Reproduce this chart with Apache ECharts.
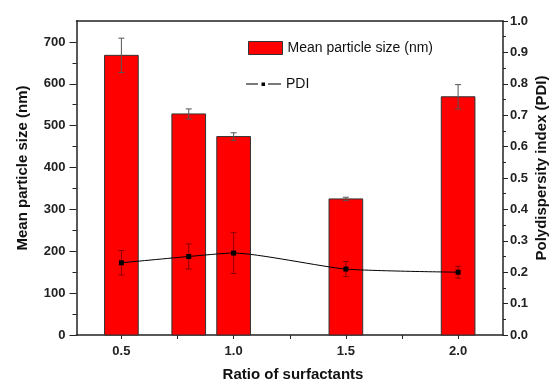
<!DOCTYPE html>
<html><head><meta charset="utf-8">
<script src="https://cdn.jsdelivr.net/npm/echarts@6/dist/echarts.min.js"></script>
<style>html,body{margin:0;padding:0;background:#fff}#c{width:555px;height:385px}</style>
</head><body><div id="c"></div>
<script>
var ratios = [0.5, 0.8, 1.0, 1.5, 2.0];
var sizeMean = [668, 528, 474, 325, 569];
var sizeErr = [41, 12, 9, 4, 29];
var pdiMean = [0.230, 0.250, 0.261, 0.210, 0.200];
var pdiErr = [0.039, 0.040, 0.065, 0.024, 0.019];
var xTickLabels = [0.5, 1.0, 1.5, 2.0];
var xTicks = [0.5, 0.75, 1.0, 1.25, 1.5, 1.75, 2.0];
var yTicks = [0, 100, 200, 300, 400, 500, 600, 700];

var FONT = 'Liberation Sans, Arial, sans-serif';
var chart = echarts.init(document.getElementById('c'), null, {renderer: 'canvas'});

var barData = ratios.map(function (r, i) { return [r, sizeMean[i]]; });
var barErrData = ratios.map(function (r, i) { return [r, sizeMean[i] - sizeErr[i], sizeMean[i] + sizeErr[i]]; });
var pdiData = ratios.map(function (r, i) { return [r, pdiMean[i]]; });
var pdiErrData = ratios.map(function (r, i) { return [r, pdiMean[i] - pdiErr[i], pdiMean[i] + pdiErr[i]]; });

function errRender(color) {
  return function (params, api) {
    var x = api.value(0);
    var lo = api.coord([x, api.value(1)]);
    var hi = api.coord([x, api.value(2)]);
    var hw = 3;
    var st = {stroke: color, lineWidth: 1};
    return {type: 'group', children: [
      {type: 'line', shape: {x1: lo[0], y1: lo[1], x2: hi[0], y2: hi[1]}, style: st},
      {type: 'line', shape: {x1: lo[0] - hw, y1: lo[1], x2: lo[0] + hw, y2: lo[1]}, style: st},
      {type: 'line', shape: {x1: hi[0] - hw, y1: hi[1], x2: hi[0] + hw, y2: hi[1]}, style: st}
    ]};
  };
}

var tickLabelStyle = {fontFamily: FONT, fontWeight: 'bold', fontSize: 13, color: '#222'};

chart.setOption({
  animation: false,
  grid: {left: 76.5, right: 52, top: 21, bottom: 50, containLabel: false},
  legend: {
    orient: 'vertical', left: 243, top: 36, itemWidth: 34, itemHeight: 13, itemGap: 24,
    textStyle: {fontFamily: FONT, fontSize: 14, color: '#111'},
    data: [
      {name: 'Mean particle size (nm)', icon: 'rect', itemStyle: {color: '#ff0000', borderColor: '#333', borderWidth: 1}}
    ]
  },
  xAxis: [{
    type: 'value', min: 0.3, max: 2.2, position: 'bottom',
    axisLine: {show: true, onZero: false, lineStyle: {color: '#222', width: 1.5}},
    axisTick: {show: true, inside: false, length: 4, customValues: xTicks, lineStyle: {color: '#222', width: 1}},
    axisLabel: Object.assign({customValues: xTickLabels, margin: 10, formatter: function (v) { return v.toFixed(1); }}, tickLabelStyle),
    splitLine: {show: false}
  }, {
    type: 'value', min: 0.3, max: 2.2, position: 'top',
    axisLine: {show: true, onZero: false, lineStyle: {color: '#222', width: 1.5}},
    axisTick: {show: false}, axisLabel: {show: false}, splitLine: {show: false}
  }],
  yAxis: [{
    type: 'value', min: 0, max: 750, interval: 100, position: 'left',
    axisLine: {show: true, onZero: false, lineStyle: {color: '#222', width: 1.5}},
    axisTick: {show: true, length: 7, lineStyle: {color: '#222'}, customValues: yTicks},
    minorTick: {show: true, splitNumber: 2, length: 4, lineStyle: {color: '#222'}},
    axisLabel: Object.assign({margin: 11, customValues: yTicks}, tickLabelStyle),
    splitLine: {show: false}
  }, {
    type: 'value', min: 0, max: 1.0, interval: 0.1, position: 'right',
    axisLine: {show: true, onZero: false, lineStyle: {color: '#222', width: 1.5}},
    axisTick: {show: true, length: 5, lineStyle: {color: '#222'}},
    minorTick: {show: true, splitNumber: 2, length: 3, lineStyle: {color: '#222'}},
    axisLabel: Object.assign({margin: 7, formatter: function (v) { return v.toFixed(1); }}, tickLabelStyle),
    splitLine: {show: false}
  }],
  graphic: [
    {type: 'text', x: 23, y: 168, rotation: Math.PI / 2,
     style: {text: 'Mean particle size (nm)', fontFamily: FONT, fontWeight: 'bold', fontSize: 15, fill: '#111', align: 'center', verticalAlign: 'middle'}},
    {type: 'text', x: 542, y: 168, rotation: Math.PI / 2,
     style: {text: 'Polydispersity index (PDI)', fontFamily: FONT, fontWeight: 'bold', fontSize: 15, fill: '#111', align: 'center', verticalAlign: 'middle'}},
    {type: 'text', x: 293, y: 375,
     style: {text: 'Ratio of surfactants', fontFamily: FONT, fontWeight: 'bold', fontSize: 15, fill: '#111', align: 'center', verticalAlign: 'middle'}},
    {type: 'line', shape: {x1: 246, y1: 84, x2: 258, y2: 84}, style: {stroke: '#222', lineWidth: 1.2}},
    {type: 'rect', shape: {x: 261.5, y: 82.5, width: 3.5, height: 3.5}, style: {fill: '#000'}},
    {type: 'line', shape: {x1: 268, y1: 84, x2: 281, y2: 84}, style: {stroke: '#222', lineWidth: 1.2}},
    {type: 'text', x: 286, y: 84,
     style: {text: 'PDI', fontFamily: FONT, fontSize: 14, fill: '#111', align: 'left', verticalAlign: 'middle'}}
  ],
  series: [{
    name: 'Mean particle size (nm)', type: 'custom', xAxisIndex: 0, yAxisIndex: 0,
    itemStyle: {color: '#ff0000', borderColor: '#333'},
    renderItem: function (params, api) {
      var x = api.value(0);
      var top = api.coord([x, api.value(1)]);
      var base = api.coord([x, 0]);
      var w = api.size([0.15, 0])[0];
      return {type: 'rect', shape: {x: top[0] - w / 2, y: top[1], width: w, height: base[1] - top[1]},
        style: {fill: '#ff0000', stroke: '#333', lineWidth: 1}};
    },
    data: barData, z: 2
  }, {
    name: 'barErr', type: 'custom', xAxisIndex: 0, yAxisIndex: 0,
    renderItem: errRender('#555'), data: barErrData, z: 3
  }, {
    name: 'pdiErr', type: 'custom', xAxisIndex: 0, yAxisIndex: 1,
    renderItem: errRender('#8b0000'), data: pdiErrData, z: 4
  }, {
    name: 'PDI', type: 'line', xAxisIndex: 0, yAxisIndex: 1, data: pdiData,
    smooth: 0.2, symbol: 'rect', symbolSize: 5,
    lineStyle: {color: '#000', width: 1}, itemStyle: {color: '#000'}, z: 5
  }]
});
</script></body></html>
